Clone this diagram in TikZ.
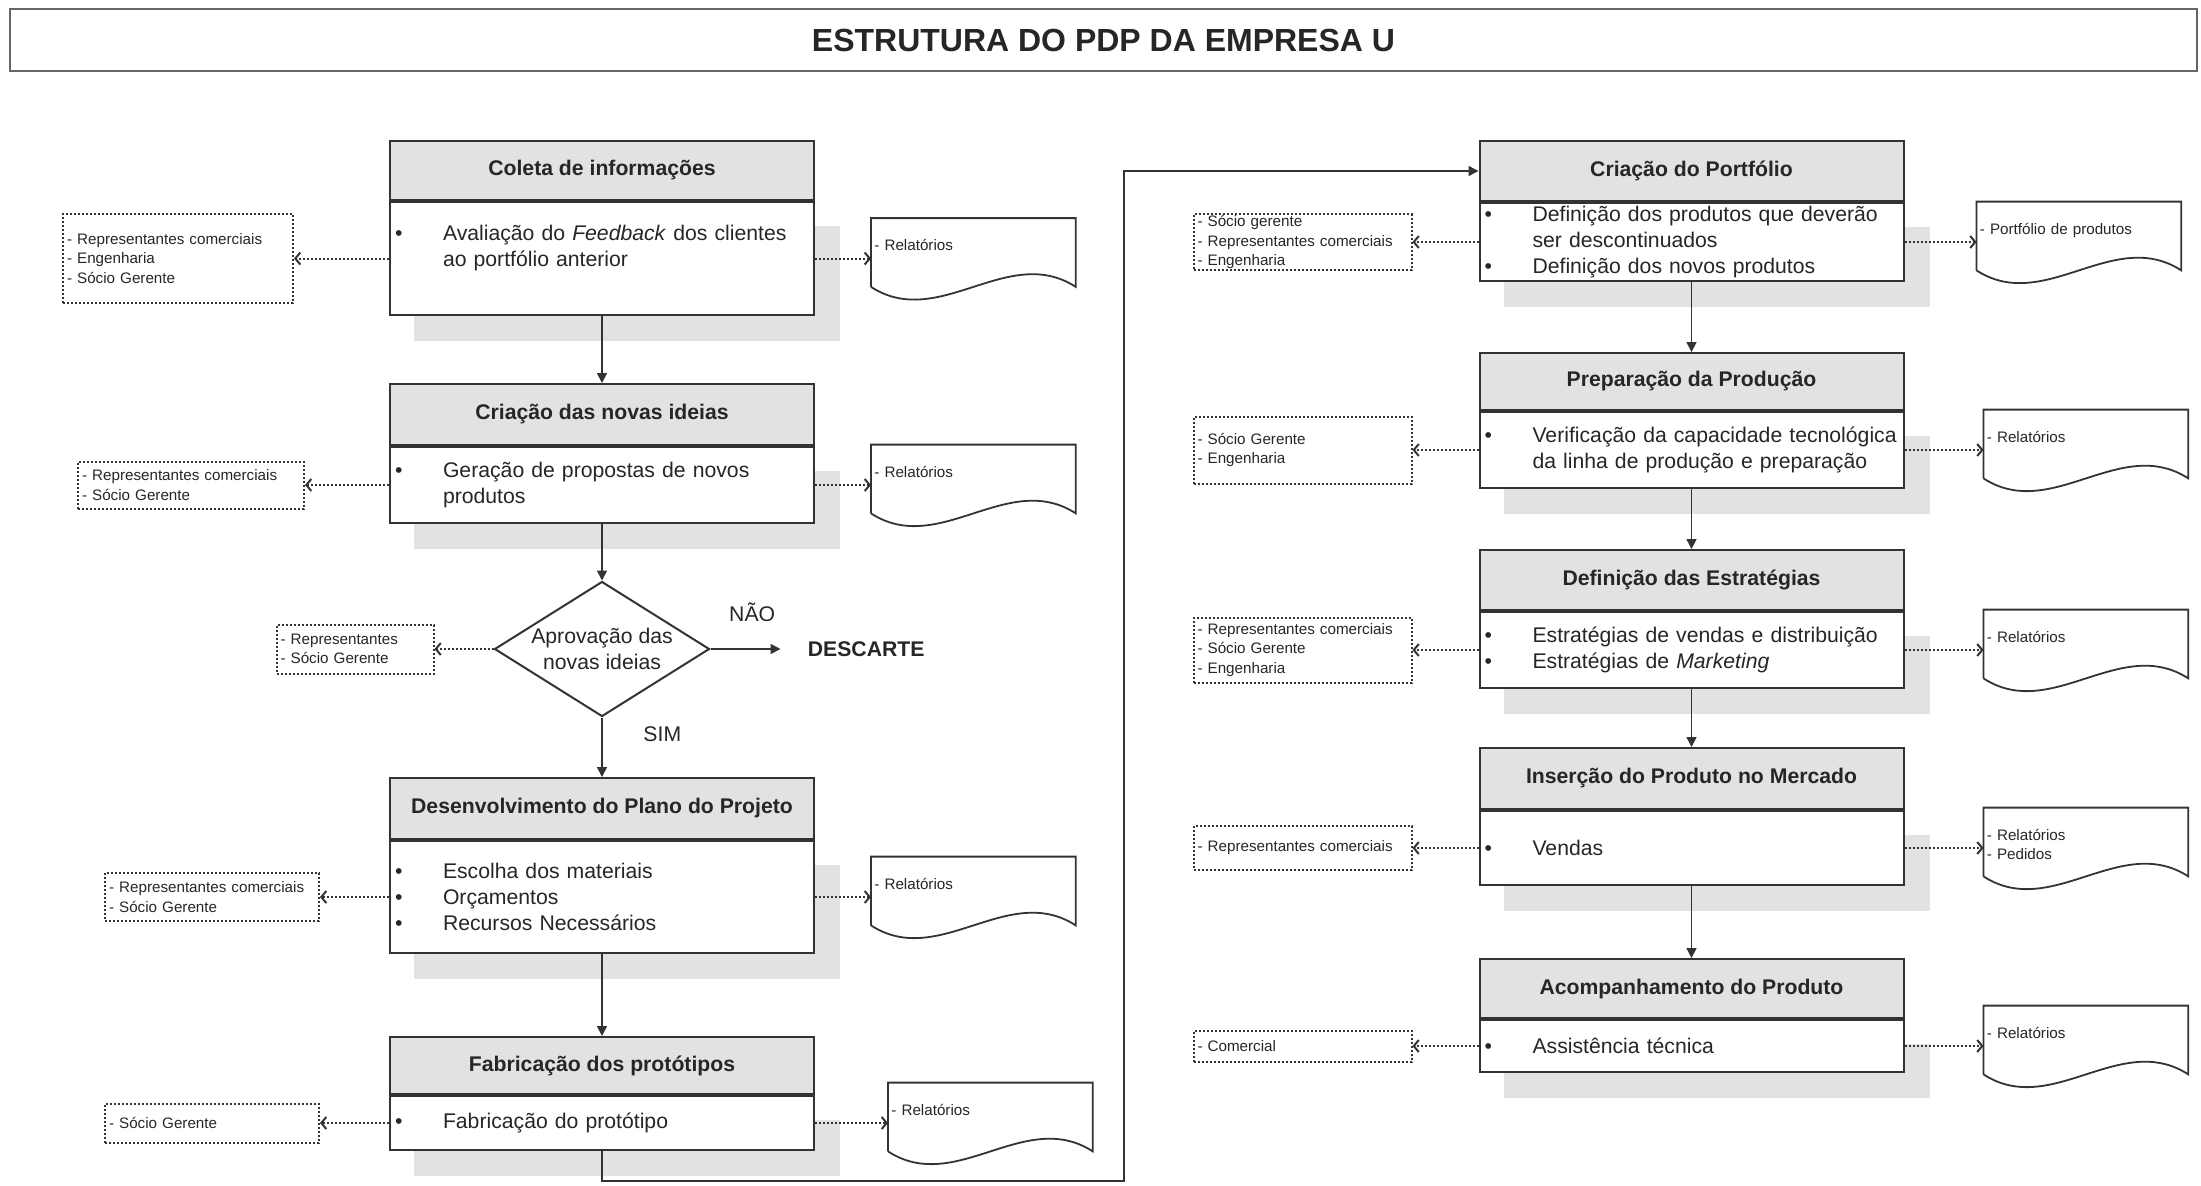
\documentclass[tikz,border=0pt]{standalone}
\usepackage{fontspec}
\setmainfont{Liberation Sans}
\usepackage{tikz}
\usetikzlibrary{arrows.meta,positioning,shapes.geometric,backgrounds}
\definecolor{linha}{HTML}{333333}
\definecolor{cinza}{HTML}{E2E2E2}
\definecolor{texto}{HTML}{262626}
\newcommand{\bul}{\makebox[24pt][l]{\textbullet}}
\newcommand{\rec}{\hspace*{24pt}}
\tikzset{
  titulo/.style={rectangle, draw=black!60, line width=1pt, minimum width=1093.5pt, minimum height=31pt,
                 font=\bfseries\fontsize{16}{19}\selectfont, text=texto},
  cab/.style={rectangle, draw=linha, line width=1pt, fill=cinza, minimum width=212pt, inner sep=0pt,
              font=\bfseries\fontsize{10.6}{13}\selectfont, text=texto},
  corpo/.style={rectangle, draw=linha, line width=1pt, fill=white, text width=207pt, inner xsep=2.5pt,
                inner ysep=0pt, align=left, font=\fontsize{10.6}{13}\selectfont, text=texto},
  decisao/.style={diamond, draw=linha, line width=1pt, fill=white, aspect=1.6, inner sep=0pt,
                  minimum width=107.5pt, minimum height=67.5pt, align=center,
                  font=\fontsize{10.6}{13}\selectfont, text=texto},
  ator/.style={rectangle, draw=linha, densely dotted, line width=1pt, text width=#1, inner xsep=2pt,
               inner ysep=0.5pt, align=left, font=\fontsize{7.6}{9.7}\selectfont, text=texto},
  docum/.style={rectangle, minimum width=102pt, text width=99pt, inner xsep=1.5pt, inner ysep=0pt,
                text height=16pt, text depth=18pt, align=left, font=\fontsize{7.6}{9.7}\selectfont, text=texto},
  doclinha/.style={draw=linha, line width=0.9pt},
  rotulo/.style={font=\fontsize{10.6}{13}\selectfont, text=texto},
  fluxo/.style={-{Triangle[length=5pt,width=5pt]}, line width=0.8pt, draw=linha},
  pont/.style={-{Straight Barb[length=2.5pt,width=6pt]}, densely dotted, line width=1pt, draw=linha},
}
\begin{document}
\begin{tikzpicture}[x=0.5pt, y=-0.5pt]
  \useasboundingbox (0,0) rectangle (2201,1185);
  \node[titulo] (tit) at (1103.5,40) {ESTRUTURA DO PDP DA EMPRESA U};

  % coluna da esquerda
  \node[cab, minimum height=29.5pt, anchor=north] (h1) at (602,140) {Coleta de informações};
  \node[corpo, minimum height=56.5pt, below=0pt of h1] (b1)
    {\bul Avaliação do \emph{Feedback} dos clientes\\ \rec ao portfólio anterior\\ \mbox{}};
  \node[cab, minimum height=30.5pt, anchor=north] (h2) at (602,383) {Criação das novas ideias};
  \node[corpo, minimum height=38pt, below=0pt of h2] (b2)
    {\bul Geração de propostas de novos\\ \rec produtos};
  \node[decisao] (dia) at (602,649) {Aprovação das\\novas ideias};
  \node[font=\bfseries\fontsize{10.6}{13}\selectfont, text=texto, inner xsep=0pt, right=48.5pt of dia] (desc) {DESCARTE};
  \node[cab, minimum height=30.5pt, anchor=north] (h4) at (602,777) {Desenvolvimento do Plano do Projeto};
  \node[corpo, minimum height=56pt, below=0pt of h4] (b4)
    {\bul Escolha dos materiais\\ \bul Orçamentos\\ \bul Recursos Necessários};
  \node[cab, minimum height=28.5pt, anchor=north] (h5) at (602,1036) {Fabricação dos protótipos};
  \node[corpo, minimum height=27pt, below=0pt of h5] (b5) {\bul Fabricação do protótipo};

  % coluna da direita
  \node[cab, minimum height=30pt, anchor=north] (hr1) at (1691.5,140) {Criação do Portfólio};
  \node[corpo, minimum height=39pt, below=0pt of hr1] (br1)
    {\bul Definição dos produtos que deverão\\ \rec ser descontinuados\\ \bul Definição dos novos produtos};
  \node[cab, minimum height=28.5pt, anchor=north] (hr2) at (1691.5,352) {Preparação da Produção};
  \node[corpo, minimum height=38pt, below=0pt of hr2] (br2)
    {\bul Verificação da capacidade tecnológica\\ \rec da linha de produção e preparação};
  \node[cab, minimum height=30pt, anchor=north] (hr3) at (1691.5,549) {Definição das Estratégias};
  \node[corpo, minimum height=38pt, below=0pt of hr3] (br3)
    {\bul Estratégias de vendas e distribuição\\ \bul Estratégias de \emph{Marketing}};
  \node[cab, minimum height=30.5pt, anchor=north] (hr4) at (1691.5,747) {Inserção do Produto no Mercado};
  \node[corpo, minimum height=37pt, below=0pt of hr4] (br4) {\bul Vendas};
  \node[cab, minimum height=29.5pt, anchor=north] (hr5) at (1691.5,958) {Acompanhamento do Produto};
  \node[corpo, minimum height=26pt, below=0pt of hr5] (br5) {\bul Assistência técnica};

  % responsaveis
  \node[ator=111pt, minimum height=44.5pt, left=47.5pt of b1] (l1)
    {- Representantes comerciais\\- Engenharia\\- Sócio Gerente};
  \node[ator=109pt, minimum height=23.5pt, left=42pt of b2] (l2)
    {- Representantes comerciais\\- Sócio Gerente};
  \node[ator=74.5pt, minimum height=24.5pt, left=29.5pt of dia] (l3)
    {- Representantes\\- Sócio Gerente};
  \node[ator=103pt, minimum height=24pt, left=34.5pt of b4] (l4)
    {- Representantes comerciais\\- Sócio Gerente};
  \node[ator=103pt, minimum height=19.5pt, left=34.5pt of b5] (l5) {- Sócio Gerente};
  \node[ator=105pt, minimum height=26.5pt, left=33pt of br1] (rl1)
    {- Sócio gerente\\- Representantes comerciais\\- Engenharia};
  \node[ator=105pt, minimum height=33.5pt, left=33pt of br2] (rl2) {- Sócio Gerente\\- Engenharia};
  \node[ator=105pt, minimum height=32.5pt, left=33pt of br3] (rl3)
    {- Representantes comerciais\\- Sócio Gerente\\- Engenharia};
  \node[ator=105pt, minimum height=22pt, left=33pt of br4] (rl4) {- Representantes comerciais};
  \node[ator=105pt, minimum height=15.5pt, left=33pt of br5] (rl5) {- Comercial};

  % documentos
  \node[docum, right=28pt of b1, yshift=3pt] (d1) {- Relatórios};
  \node[docum, right=28pt of b2, yshift=3pt] (d2) {- Relatórios};
  \node[docum, right=28pt of b4, yshift=3pt] (d4) {- Relatórios};
  \node[docum, right=36.5pt of b5, yshift=3pt] (d5) {- Relatórios};
  \node[docum, right=36pt of br1, yshift=3pt] (dr1) {- Portfólio de produtos};
  \node[docum, right=39.5pt of br2, yshift=3pt] (dr2) {- Relatórios};
  \node[docum, right=39.5pt of br3, yshift=3pt] (dr3) {- Relatórios};
  \node[docum, right=39.5pt of br4, yshift=3pt] (dr4) {- Relatórios\\- Pedidos};
  \node[docum, right=39.5pt of br5, yshift=3pt] (dr5) {- Relatórios};
  \foreach \d in {d1,d2,d4,d5,dr1,dr2,dr3,dr4,dr5}
    \draw[doclinha] (\d.south west) -- (\d.north west) -- (\d.north east) -- (\d.south east)
      .. controls +(-34pt,22pt) and +(34pt,-22pt) .. (\d.south west);

  % sombras
  \begin{scope}[on background layer]
    \foreach \c in {b1,b2,b4,b5,br1,br2,br3,br4,br5}
      \fill[cinza] ([shift={(12.5pt,-12.5pt)}]\c.north west) rectangle ([shift={(12.5pt,-12.5pt)}]\c.south east);
  \end{scope}

  % fluxo principal
  \coordinate (desvio) at (1124,1181);
  \draw[fluxo] (b1) -- (h2);
  \draw[fluxo] (b2) -- (dia);
  \draw[fluxo] (dia) -- node[rotulo, right=17pt, pos=0.28] {SIM} (h4);
  \draw[fluxo, shorten >=13.5pt] (dia) -- node[rotulo, above=10pt, pos=0.43] {NÃO} (desc);
  \draw[fluxo] (b4) -- (h5);
  \draw[fluxo] (b5) |- (desvio) |- (hr1);
  \draw[fluxo] (br1) -- (hr2);
  \draw[fluxo] (br2) -- (hr3);
  \draw[fluxo] (br3) -- (hr4);
  \draw[fluxo] (br4) -- (hr5);

  % ligacoes pontilhadas
  \draw[pont] (dia) -- (l3);
  \foreach \b/\l/\d in {b1/l1/d1, b2/l2/d2, b4/l4/d4, b5/l5/d5, br1/rl1/dr1, br2/rl2/dr2, br3/rl3/dr3, br4/rl4/dr4, br5/rl5/dr5} {
    \draw[pont] (\b) -- (\l);
    \draw[pont] (\b.east) -- (\b.east -| \d.west);
  }
\end{tikzpicture}
\end{document}
